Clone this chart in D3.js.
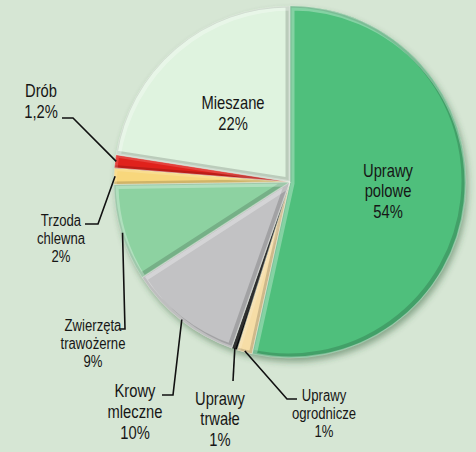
<!DOCTYPE html>
<html>
<head>
<meta charset="utf-8">
<script src="https://cdn.jsdelivr.net/npm/d3@7"></script>
<style>
  body { margin: 0; background: #d6e6d4; }
  svg { display: block; }
</style>
</head>
<body>
<div id="chart"></div>
<script>
// data (clockwise from 12 o'clock)
const categories = ["Uprawy polowe", "Uprawy ogrodnicze", "Uprawy trwałe", "Krowy mleczne",
                    "Zwierzęta trawożerne", "Trzoda chlewna", "Drób", "Mieszane"];
const shares = [53.4, 1.4, 0.5, 10.5, 8.9, 1.5, 1.2, 22.5];
const labelLines = [
  ["Uprawy", "polowe", "54%"],
  ["Uprawy", "ogrodnicze", "1%"],
  ["Uprawy", "trwałe", "1%"],
  ["Krowy", "mleczne", "10%"],
  ["Zwierzęta", "trawożerne", "9%"],
  ["Trzoda", "chlewna", "2%"],
  ["Drób", "1,2%"],
  ["Mieszane", "22%"]
];
const colors = ["#4fbf7b", "#f6dda6", "#0b0b0b", "#c2c2c4", "#8dd2a1", "#f8d77c", "#e0221f", "#dff3df"];

// label placement (x, first baseline, font size, line height, leader elbow points)
const labelLayout = [
  { x: 388, y: 177, size: 18, lh: 20.5, elbow: null },
  { x: 324, y: 401, size: 16, lh: 18, elbow: [[297, 399], [287, 399]] },
  { x: 220, y: 405, size: 18, lh: 20.5, elbow: [[233, 381]] },
  { x: 135, y: 397, size: 18, lh: 21, elbow: [[162, 395], [173, 395]] },
  { x: 93,  y: 331, size: 16, lh: 18, elbow: [[120, 329], [125, 329]] },
  { x: 61,  y: 226, size: 16, lh: 18, elbow: [[85, 224], [98, 224]] },
  { x: 41,  y: 97,  size: 18, lh: 21, elbow: [[62, 118], [73, 118]] },
  { x: 233, y: 109, size: 18, lh: 21, elbow: null }
];

const W = 476, H = 452;
const cx = 290, cy = 182, r = 176;
const font = "'Liberation Sans', Arial, sans-serif";
const narrow = 0.82;   // the original uses a condensed face

const svg = d3.select("#chart").append("svg")
  .attr("width", W)
  .attr("height", H);

svg.append("rect").attr("width", W).attr("height", H).attr("fill", "#d6e6d4");

const defs = svg.append("defs");
const shadow = defs.append("filter").attr("id", "shadow")
  .attr("x", "-10%").attr("y", "-10%").attr("width", "125%").attr("height", "125%");
shadow.append("feDropShadow")
  .attr("dx", 2).attr("dy", 4).attr("stdDeviation", 3)
  .attr("flood-color", "#2d5a35").attr("flood-opacity", 0.45);

const data = categories.map((c, i) => ({ name: c, value: shares[i], i }));
const pie = d3.pie().sort(null).value(d => d.value);
const arcs = pie(data);
const arc = d3.arc().innerRadius(0).outerRadius(r);

const g = svg.append("g").attr("transform", `translate(${cx},${cy})`);

// slices
g.append("g")
  .attr("filter", "url(#shadow)")
  .selectAll("path")
  .data(arcs)
  .join("path")
    .attr("d", arc)
    .attr("fill", d => colors[d.data.i]);

// bevel: dark strip on bottom-right edges, light strip on top-left edges
arcs.forEach(d => {
  const id = "clip" + d.data.i;
  const small = d.endAngle - d.startAngle < 0.12;
  const w = small ? 3 : 6;
  defs.append("clipPath").attr("id", id).append("path").attr("d", arc(d));
  const b = g.append("g").attr("clip-path", `url(#${id})`);
  b.append("path").attr("d", arc(d))
    .attr("transform", "translate(-1.5,-1.5)")
    .attr("fill", "none").attr("stroke", "#000")
    .attr("stroke-opacity", 0.16).attr("stroke-width", w);
  b.append("path").attr("d", arc(d))
    .attr("transform", "translate(1.5,1.5)")
    .attr("fill", "none").attr("stroke", "#fff")
    .attr("stroke-opacity", small ? 0.15 : 0.3).attr("stroke-width", w);
});

// thin separators
g.append("g")
  .selectAll("path")
  .data(arcs)
  .join("path")
    .attr("d", arc)
    .attr("fill", "none")
    .attr("stroke", "#eef5ec")
    .attr("stroke-opacity", 0.5)
    .attr("stroke-width", 0.6);

// leader lines
const edgePoint = d => {
  const a = (d.startAngle + d.endAngle) / 2;
  return [cx + (r - 1) * Math.sin(a), cy - (r - 1) * Math.cos(a)];
};
arcs.forEach(d => {
  const L = labelLayout[d.data.i];
  if (!L.elbow) return;
  svg.append("path")
    .attr("d", d3.line()([...L.elbow, edgePoint(d)]))
    .attr("fill", "none")
    .attr("stroke", "#111")
    .attr("stroke-width", 1.6);
});

// labels
arcs.forEach(d => {
  const L = labelLayout[d.data.i];
  const t = svg.append("text")
    .attr("transform", `translate(${L.x},0) scale(${narrow},1)`)
    .attr("text-anchor", "middle")
    .attr("font-family", font)
    .attr("font-size", L.size)
    .attr("fill", "#161616");
  labelLines[d.data.i].forEach((line, k) => {
    t.append("tspan")
      .attr("x", 0)
      .attr("y", L.y + k * L.lh)
      .text(line);
  });
});
</script>
</body>
</html>
